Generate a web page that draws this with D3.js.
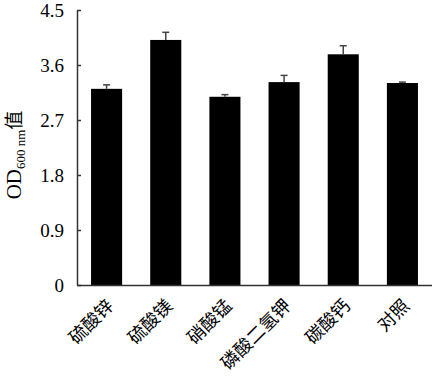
<!DOCTYPE html>
<html><head><meta charset="utf-8">
<script src="https://cdn.jsdelivr.net/npm/d3@7"></script>
<style>body{margin:0;background:#fff}svg{display:block}</style>
</head><body>
<script>
const categories = ["硫酸锌","硫酸镁","硝酸锰","磷酸二氢钾","碳酸钙","对照"];
const values = [3.21, 4.01, 3.08, 3.32, 3.775, 3.305];
const errors = [0.065, 0.125, 0.035, 0.11, 0.14, 0.015];
const yTicks = [0, 0.9, 1.8, 2.7, 3.6, 4.5];
const yTickLabels = ["0","0.9","1.8","2.7","3.6","4.5"];

(function(){
const W = 432, H = 392;
const mLeft = 77, mRight = 432, mTop = 10, mBottom = 285;
const svg = d3.select("body").append("svg").attr("width", W).attr("height", H);

const x = d3.scaleBand().domain(categories).range([mLeft, mRight]).paddingInner(0.475).paddingOuter(0.2375);
const y = d3.scaleLinear().domain([0, 4.5]).range([mBottom, mTop]);

const serif = "'Liberation Serif','Times New Roman','Noto Sans CJK SC',serif";
const ax = "#333";

svg.selectAll("rect.bar").data(values).join("rect")
  .attr("class", "bar")
  .attr("x", (d,i) => x(categories[i]))
  .attr("width", x.bandwidth())
  .attr("y", d => y(d))
  .attr("height", d => y(0) - y(d))
  .attr("fill", "#000");

const eg = svg.append("g").attr("stroke", "#444").attr("stroke-width", 1.5);
values.forEach((v, i) => {
  const cx = x(categories[i]) + x.bandwidth()/2;
  eg.append("line").attr("x1", cx).attr("x2", cx).attr("y1", y(v)).attr("y2", y(v + errors[i]));
  eg.append("line").attr("x1", cx - 3.5).attr("x2", cx + 3.5).attr("y1", y(v + errors[i])).attr("y2", y(v + errors[i]));
});

const yAxis = d3.axisLeft(y).tickValues(yTicks).tickFormat((d,i) => yTickLabels[i]).tickSizeInner(-4).tickSizeOuter(0).tickPadding(13);
const gy = svg.append("g").attr("transform", `translate(${mLeft},0)`).call(yAxis);
gy.select(".domain").attr("stroke", ax).attr("stroke-width", 1.5);
gy.selectAll(".tick line").attr("stroke", ax).attr("stroke-width", 1.5);
gy.selectAll(".tick text").attr("font-family", serif).attr("font-size", 19).attr("fill", "#000");

const xAxis = d3.axisBottom(x).tickSize(0).tickSizeOuter(0).tickFormat("");
const gx = svg.append("g").attr("transform", `translate(0,${mBottom})`).call(xAxis);
gx.select(".domain").attr("stroke", ax).attr("stroke-width", 1.5);

svg.append("g").selectAll("text").data(categories).join("text")
  .attr("transform", d => `translate(${x(d) + x.bandwidth()/2 + 8},${mBottom + 22}) rotate(-45)`)
  .attr("text-anchor", "end")
  .attr("font-family", "'Noto Sans CJK SC',sans-serif")
  .attr("font-size", 18)
  .attr("fill", "#000")
  .text(d => d);

const yl = svg.append("text")
  .attr("transform", `translate(21,155) rotate(-90)`)
  .attr("text-anchor", "middle")
  .attr("font-family", serif)
  .attr("font-size", 21)
  .attr("fill", "#000");
yl.append("tspan").text("OD");
yl.append("tspan").attr("font-size", 13).attr("dy", 4).text("600 nm");
yl.append("tspan").attr("dy", -4).attr("font-family", "'Noto Sans CJK SC',sans-serif").attr("font-size", 19).text("值");
})();
</script>
</body></html>
